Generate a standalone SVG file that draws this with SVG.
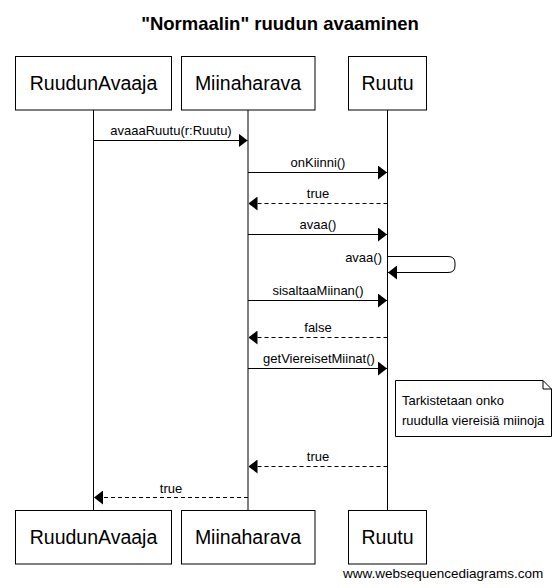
<svg xmlns="http://www.w3.org/2000/svg" width="560" height="588" viewBox="0 0 560 588">
<style>
text{font-family:"Liberation Sans",Arial,sans-serif;fill:#000}
.box{fill:#fff;stroke:#000;stroke-width:1}
.actor{font-size:19.5px;text-anchor:middle}
.lbl{font-size:13px;text-anchor:middle}
.life{stroke:#000;stroke-width:1}
.msg{stroke:#000;stroke-width:1;fill:none}
.ret{stroke:#000;stroke-width:1;fill:none;stroke-dasharray:4,3}
</style>
<defs>
<marker id="ah" markerWidth="9" markerHeight="14" refX="9" refY="7" orient="auto" markerUnits="userSpaceOnUse">
<path d="M0,0 L9,7 L0,14 Z" fill="#000"/>
</marker>
</defs>
<rect width="560" height="588" fill="#fff"/>
<text x="280" y="30" font-size="18.5" font-weight="bold" text-anchor="middle">"Normaalin" ruudun avaaminen</text>
<g id="lifelines">
<line class="life" x1="93.5" y1="110" x2="93.5" y2="510"/>
<line class="life" x1="248" y1="110" x2="248" y2="510"/>
<line class="life" x1="387.5" y1="110" x2="387.5" y2="510"/>
</g>
<g id="RuudunAvaaja">
<rect class="box" x="15.5" y="56.5" width="156" height="53.5"/>
<text class="actor" x="93.5" y="90">RuudunAvaaja</text>
<rect class="box" x="15.5" y="510.5" width="156" height="53.5"/>
<text class="actor" x="93.5" y="544">RuudunAvaaja</text>
</g>
<g id="Miinaharava">
<rect class="box" x="181.5" y="56.5" width="133.5" height="53.5"/>
<text class="actor" x="248" y="90">Miinaharava</text>
<rect class="box" x="181.5" y="510.5" width="133.5" height="53.5"/>
<text class="actor" x="248" y="544">Miinaharava</text>
</g>
<g id="Ruutu">
<rect class="box" x="348.5" y="56.5" width="78" height="53.5"/>
<text class="actor" x="387.5" y="90">Ruutu</text>
<rect class="box" x="348.5" y="510.5" width="78" height="53.5"/>
<text class="actor" x="387.5" y="544">Ruutu</text>
</g>
<g id="note">
<path class="box" d="M395.5,380.5 H543 L551.5,389 V436.5 H395.5 Z"/>
<path class="msg" d="M543,380.5 V389 H551.5"/>
<text x="402" y="405" font-size="13">Tarkistetaan onko</text>
<text x="402" y="425" font-size="13">ruudulla viereisiä miinoja</text>
</g>
<g id="connectors">
<line class="msg" x1="93.5" y1="140.5" x2="247.5" y2="140.5" marker-end="url(#ah)"/>
<text class="lbl" x="171" y="135">avaaaRuutu(r:Ruutu)</text>
<line class="msg" x1="248" y1="172.5" x2="387" y2="172.5" marker-end="url(#ah)"/>
<text class="lbl" x="318" y="167">onKiinni()</text>
<line class="ret" x1="387.5" y1="203.5" x2="248.5" y2="203.5" marker-end="url(#ah)"/>
<text class="lbl" x="318" y="198">true</text>
<line class="msg" x1="248" y1="234.5" x2="387" y2="234.5" marker-end="url(#ah)"/>
<text class="lbl" x="318" y="229">avaa()</text>
<path class="msg" d="M387.5,256.5 H448 Q455,256.5 455,263 V266 Q455,272.5 448,272.5 H388" marker-end="url(#ah)"/>
<text x="382" y="262" font-size="13" text-anchor="end">avaa()</text>
<line class="msg" x1="248" y1="300.5" x2="387" y2="300.5" marker-end="url(#ah)"/>
<text class="lbl" x="318" y="295">sisaltaaMiinan()</text>
<line class="ret" x1="387.5" y1="337.5" x2="248.5" y2="337.5" marker-end="url(#ah)"/>
<text class="lbl" x="318" y="332">false</text>
<line class="msg" x1="248" y1="368.5" x2="387" y2="368.5" marker-end="url(#ah)"/>
<text class="lbl" x="319" y="363">getViereisetMiinat()</text>
<line class="ret" x1="387.5" y1="466.5" x2="248.5" y2="466.5" marker-end="url(#ah)"/>
<text class="lbl" x="318" y="461">true</text>
<line class="ret" x1="248" y1="497.5" x2="94" y2="497.5" marker-end="url(#ah)"/>
<text class="lbl" x="171" y="493">true</text>
</g>
<text x="343" y="578" font-size="13.5">www.websequencediagrams.com</text>
</svg>
